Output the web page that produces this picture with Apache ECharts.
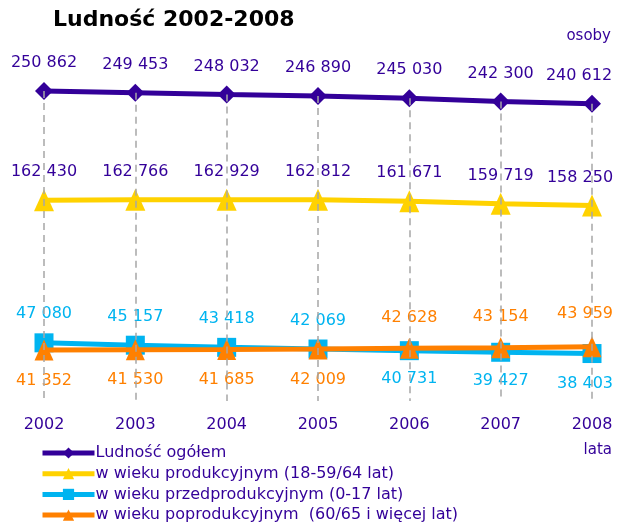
<!DOCTYPE html>
<html><head><meta charset="utf-8">
<script src="https://cdn.jsdelivr.net/npm/echarts@6/dist/echarts.min.js"></script>
<style>html,body{margin:0;padding:0;background:#fff}#c{width:618px;height:525px}</style>
</head><body><div id="c"></div>
<script>
const years = ['2002','2003','2004','2005','2006','2007','2008'];
const total = [250862,249453,248032,246890,245030,242300,240612];
const working = [162430,162766,162929,162812,161671,159719,158250];
const preWorking = [47080,45157,43418,42069,40731,39427,38403];
const postWorking = [41352,41530,41685,42009,42628,43154,43959];
const names = ['Ludność ogółem','w wieku produkcyjnym (18-59/64 lat)','w wieku przedprodukcyjnym (0-17 lat)','w wieku poprodukcyjnym  (60/65 i więcej lat)'];

const PURPLE = '#330099', YELLOW = '#FFD200', BLUE = '#00B4F0', ORANGE = '#FF8000';
const FONT = 'DejaVu Sans';
const fmt = v => String(v).replace(/\B(?=(\d{3})+(?!\d))/g, ' ');

function items(arr, posFn, lastOffset) {
  return arr.map((v, i) => {
    const pos = posFn(i);
    const lab = { position: pos };
    if (i === arr.length - 1) lab.offset = lastOffset;
    return { value: v, label: lab };
  });
}

const chart = echarts.init(document.getElementById('c'));
chart.setOption({
  animation: false,
  textStyle: { fontFamily: FONT },
  grid: { left: 44, right: 26, top: 55, bottom: 124 },
  xAxis: {
    type: 'category', data: years, boundaryGap: false,
    axisLine: { show: false }, axisTick: { show: false }, splitLine: { show: false },
    axisLabel: { color: PURPLE, fontSize: 16, margin: 16, fontFamily: FONT }
  },
  yAxis: { type: 'value', min: 0, max: 280000, show: false, splitLine: { show: false } },
  legend: {
    orient: 'vertical', left: 40, top: 445, height: 90, itemWidth: 52, itemHeight: 14, itemGap: 4.7,
    padding: 0, data: names,
    lineStyle: { width: 5 },
    textStyle: { color: PURPLE, fontSize: 16, fontFamily: FONT, padding: [0,0,0,-4] }
  },
  graphic: [
    { type: 'text', left: 53, top: 9, style: { text: 'Ludność 2002-2008', font: 'bold 22px "DejaVu Sans"', fill: '#000' } },
    { type: 'text', right: 7, top: 29, style: { text: 'osoby', font: '15px "DejaVu Sans"', fill: PURPLE } },
    { type: 'text', right: 6, top: 443, style: { text: 'lata', font: '15px "DejaVu Sans"', fill: PURPLE } }
  ],
  series: [
    {
      name: 'drop', type: 'line', data: total, z: 1, silent: true, symbol: 'none',
      lineStyle: { opacity: 0 }, legendHoverLink: false,
      markLine: {
        silent: true, symbol: 'none', label: { show: false },
        lineStyle: { color: '#A6A6A6', type: [7, 5], width: 1.5 },
        data: total.map((v, i) => [{ coord: [i, v] }, { coord: [i, 0] }])
      }
    },
    {
      name: names[0], type: 'line', z: 3, data: items(total, () => 'top', [-13, 0]),
      symbol: 'diamond', symbolSize: 18, itemStyle: { color: PURPLE },
      lineStyle: { color: PURPLE, width: 5 },
      label: { show: true, distance: 11, color: PURPLE, fontSize: 16, fontFamily: FONT, formatter: p => fmt(p.value) }
    },
    {
      name: names[1], type: 'line', z: 3, data: items(working, () => 'top', [-12, 0]),
      symbol: 'triangle', symbolSize: [20, 22], itemStyle: { color: YELLOW },
      lineStyle: { color: YELLOW, width: 5 },
      label: { show: true, distance: 9, color: PURPLE, fontSize: 16, fontFamily: FONT, formatter: p => fmt(p.value) }
    },
    {
      name: names[2], type: 'line', z: 3, data: items(preWorking, i => i < 4 ? 'top' : 'bottom', [-7, 2]),
      symbol: 'rect', symbolSize: 19, itemStyle: { color: BLUE },
      lineStyle: { color: BLUE, width: 5 },
      label: { show: true, distance: 11, color: BLUE, fontSize: 16, fontFamily: FONT, formatter: p => fmt(p.value) }
    },
    {
      name: names[3], type: 'line', z: 4, data: items(postWorking, i => i < 4 ? 'bottom' : 'top', [-7, -2]),
      symbol: 'triangle', symbolSize: [19, 21], itemStyle: { color: ORANGE },
      lineStyle: { color: ORANGE, width: 5 },
      label: { show: true, distance: 12, color: ORANGE, fontSize: 16, fontFamily: FONT, formatter: p => fmt(p.value) }
    }
  ]
});
</script></body></html>
